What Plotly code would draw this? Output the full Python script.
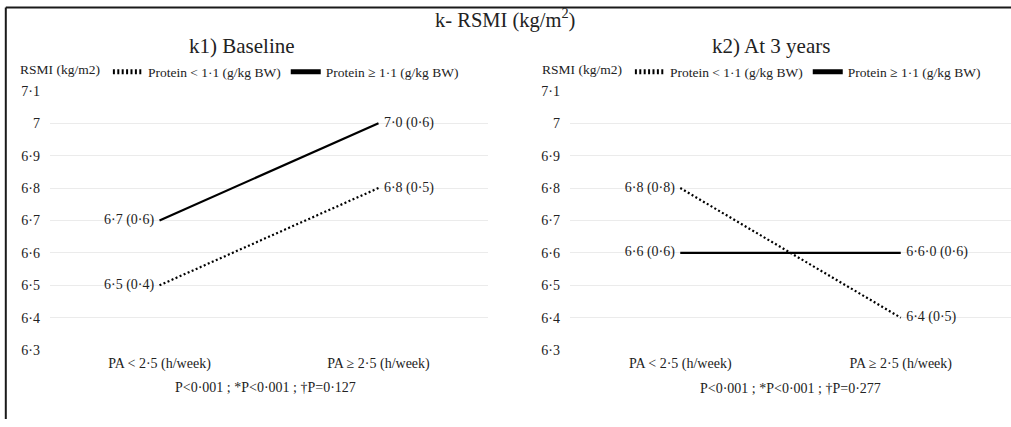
import plotly.graph_objects as go

# ---- data ----
categories = ["PA < 2·5 (h/week)", "PA ≥ 2·5 (h/week)"]
series_names = ["Protein < 1·1 (g/kg BW)", "Protein ≥ 1·1 (g/kg BW)"]

baseline_low = [6.5, 6.8]
baseline_high = [6.7, 7.0]
baseline_low_labels = ["6·5 (0·4)", "6·8 (0·5)"]
baseline_high_labels = ["6·7 (0·6)", "7·0 (0·6)"]

year3_low = [6.8, 6.4]
year3_high = [6.6, 6.6]
year3_low_labels = ["6·8 (0·8)", "6·4 (0·5)"]
year3_high_labels = ["6·6 (0·6)", "6·6·0 (0·6)"]

y_tickvals = [6.3, 6.4, 6.5, 6.6, 6.7, 6.8, 6.9, 7.0, 7.1]
y_ticktext = ["6·3", "6·4", "6·5", "6·6", "6·7", "6·8", "6·9", "7", "7·1"]

main_title = "k- RSMI (kg/m<sup>2</sup>)"
panel_titles = ["k1) Baseline", "k2) At 3 years"]
p_texts = ["P<0·001 ; *P<0·001 ; †P=0·127", "P<0·001 ; *P<0·001 ; †P=0·277"]
y_label = "RSMI (kg/m2)"

# ---- layout constants ----
W, H = 1011, 427
FONT = "Liberation Serif"
TXT = "#222222"
FS = 14
LFS = 13.5

def px_x(x):
    return x / W

def px_y(t):
    # target picture row -> paper fraction (compensates the capture's vertical offset/scale)
    f = (t - 5.56) / 0.965
    f = max(0.5, f)
    return 1 - f / H

dot_style = "2px,2.4px"
lw = 2.2
text_pos = ["middle left", "middle right"]

def line_trace(y, labels, name, dash, xa, ya, leg):
    return go.Scatter(
        x=categories, y=y, mode="lines+markers+text", name=name,
        line=dict(color="black", width=lw, dash=dash),
        marker=dict(size=7, color="rgba(0,0,0,0)", line=dict(width=0)),
        text=labels, textposition=text_pos,
        textfont=dict(family=FONT, size=FS, color=TXT),
        xaxis=xa, yaxis=ya, legend=leg, hoverinfo="skip")

fig = go.Figure()
fig.add_trace(line_trace(baseline_low, baseline_low_labels, series_names[0], dot_style, "x", "y", "legend"))
fig.add_trace(line_trace(baseline_high, baseline_high_labels, series_names[1], "solid", "x", "y", "legend"))
fig.add_trace(line_trace(year3_low, year3_low_labels, series_names[0], dot_style, "x2", "y2", "legend2"))
fig.add_trace(line_trace(year3_high, year3_high_labels, series_names[1], "solid", "x2", "y2", "legend2"))

y_top, y_bot = 89.4, 348.7
ydom = [px_y(y_bot), px_y(y_top)]

def xaxis_cfg(x0, x1):
    return dict(domain=[px_x(x0), px_x(x1)], type="category", range=[-0.5, 1.5],
                showgrid=False, showline=False, zeroline=False, ticks="",
                tickfont=dict(family=FONT, size=FS, color=TXT),
                ticklabelstandoff=3, fixedrange=True)

def yaxis_cfg(anchor):
    return dict(domain=ydom, range=[6.3, 7.1], tickvals=y_tickvals, ticktext=y_ticktext,
                showgrid=True, gridcolor="#ebebeb", gridwidth=1, showline=False,
                zeroline=False, ticks="", anchor=anchor,
                tickfont=dict(family=FONT, size=FS, color=TXT),
                ticklabelstandoff=9, fixedrange=True)

legend_common = dict(orientation="h", xanchor="left", yanchor="middle",
                     font=dict(family=FONT, size=LFS, color=TXT),
                     title=dict(text=y_label, side="left",
                                font=dict(family=FONT, size=LFS, color=TXT)),
                     bgcolor="rgba(0,0,0,0)", borderwidth=0,
                     itemsizing="constant", itemclick=False, itemdoubleclick=False,
                     tracegroupgap=0, itemwidth=30)

fig.update_layout(
    width=W, height=H,
    margin=dict(l=0, r=0, t=0, b=0, pad=0),
    paper_bgcolor="white", plot_bgcolor="white",
    font=dict(family=FONT, size=FS, color=TXT),
    xaxis=dict(**xaxis_cfg(50, 488), anchor="y"),
    yaxis=yaxis_cfg("x"),
    xaxis2=dict(**xaxis_cfg(570, 1011), anchor="y2"),
    yaxis2=yaxis_cfg("x2"),
    legend=dict(**legend_common, x=px_x(18), y=px_y(70.5)),
    legend2=dict(**legend_common, x=px_x(540), y=px_y(70.5)),
    showlegend=True,
)

annotations = [
    dict(text=main_title, x=px_x(505), y=px_y(17), xref="paper", yref="paper",
         showarrow=False, xanchor="center", yanchor="middle",
         font=dict(family=FONT, size=20.5, color=TXT)),
    dict(text=panel_titles[0], x=px_x(242), y=px_y(45), xref="paper", yref="paper",
         showarrow=False, xanchor="center", yanchor="middle",
         font=dict(family=FONT, size=21, color=TXT)),
    dict(text=panel_titles[1], x=px_x(771), y=px_y(45), xref="paper", yref="paper",
         showarrow=False, xanchor="center", yanchor="middle",
         font=dict(family=FONT, size=21, color=TXT)),
    dict(text=p_texts[0], x=px_x(265), y=px_y(386.5), xref="paper", yref="paper",
         showarrow=False, xanchor="center", yanchor="middle",
         font=dict(family=FONT, size=FS, color=TXT)),
    dict(text=p_texts[1], x=px_x(790), y=px_y(387.5), xref="paper", yref="paper",
         showarrow=False, xanchor="center", yanchor="middle",
         font=dict(family=FONT, size=FS, color=TXT)),
]
fig.update_layout(annotations=annotations)

# outer frame (top and left edges visible in the reference)
fig.add_shape(type="line", xref="paper", yref="paper",
              x0=px_x(5.8), x1=1.0, y0=px_y(4.6), y1=px_y(4.6),
              line=dict(color="#1a1a1a", width=2))
fig.add_shape(type="line", xref="paper", yref="paper",
              x0=px_x(5.8), x1=px_x(5.8), y0=px_y(4.6), y1=0,
              line=dict(color="#1a1a1a", width=2))

post = (
    "document.documentElement.style.margin='0';"
    "document.documentElement.style.overflow='hidden';"
    "document.body.style.margin='0';document.body.style.padding='0';"
    "document.body.style.overflow='hidden';"
    "var gd=document.getElementById('{plot_id}');"
    "gd.style.position='absolute';gd.style.left='0px';gd.style.top='0px';"
)

fig.write_html("out.html", config={"displayModeBar": False, "staticPlot": True},
               post_script=post)
